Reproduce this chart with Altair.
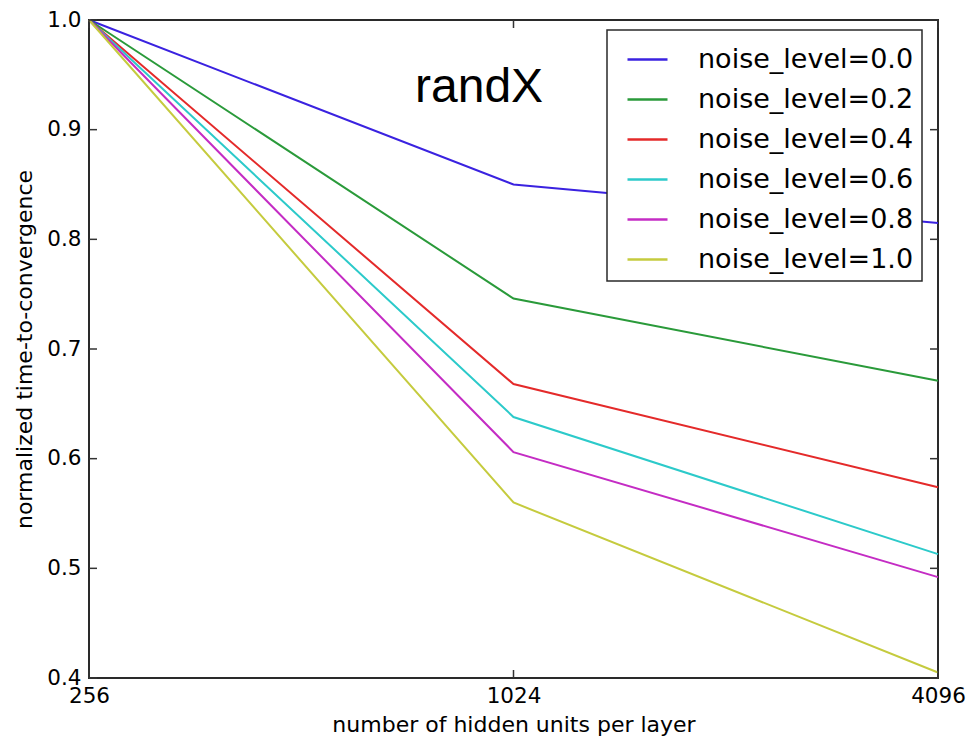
import altair as alt
import pandas as pd

# hidden layer widths on the x axis
hidden_units = [256, 1024, 4096]

# series names shown in the legend
noise_labels = [
    "noise_level=0.0",
    "noise_level=0.2",
    "noise_level=0.4",
    "noise_level=0.6",
    "noise_level=0.8",
    "noise_level=1.0",
]

# normalized time-to-convergence per noise level
ttc_noise_00 = [1.0, 0.850, 0.815]
ttc_noise_02 = [1.0, 0.746, 0.671]
ttc_noise_04 = [1.0, 0.668, 0.574]
ttc_noise_06 = [1.0, 0.638, 0.513]
ttc_noise_08 = [1.0, 0.606, 0.492]
ttc_noise_10 = [1.0, 0.560, 0.405]

line_colors = ["#3a22e0", "#2a9a3a", "#e42a2a", "#2ccaca", "#c42cc4", "#c5cb3e"]

y_ticks = [0.4, 0.5, 0.6, 0.7, 0.8, 0.9, 1.0]

series = [ttc_noise_00, ttc_noise_02, ttc_noise_04, ttc_noise_06, ttc_noise_08, ttc_noise_10]
rows = []
for label, values in zip(noise_labels, series):
    for units, v in zip(hidden_units, values):
        rows.append({"units": units, "noise": label, "ttc": v})
df = pd.DataFrame(rows)

W, H = 849, 658
TICK_FONT = "DejaVu Sans"

x_scale = alt.Scale(type="log", base=2, domain=[256, 4096], nice=False)
y_scale = alt.Scale(domain=[0.4, 1.0], nice=False, zero=False)

x_axis = alt.Axis(
    values=hidden_units,
    format="d",
    title="number of hidden units per layer",
    labelFlush=False,
    labelOverlap=False,
    ticks=False,
    domain=False,
    grid=False,
    labelPadding=7,
    labelFont=TICK_FONT,
    labelFontSize=21.5,
    labelColor="black",
    titleFont=TICK_FONT,
    titleFontSize=22,
    titleFontWeight="normal",
    titleColor="black",
    titleBaseline="alphabetic",
    titleY=53,
)
y_axis = alt.Axis(
    values=y_ticks,
    format=".1f",
    title="normalized time-to-convergence",
    labelFlush=False,
    labelOverlap=False,
    ticks=False,
    domain=False,
    grid=False,
    labelPadding=8,
    labelFont=TICK_FONT,
    labelFontSize=21.5,
    labelColor="black",
    titleFont=TICK_FONT,
    titleFontSize=22,
    titleFontWeight="normal",
    titleColor="black",
    titleBaseline="alphabetic",
    titleAngle=270,
    titleX=-58,
    titleY=H / 2,
)

lines = alt.Chart(df).mark_line(strokeWidth=2).encode(
    x=alt.X("units:Q", scale=x_scale, axis=x_axis),
    y=alt.Y("ttc:Q", scale=y_scale, axis=y_axis),
    color=alt.Color(
        "noise:N",
        scale=alt.Scale(domain=noise_labels, range=line_colors),
        legend=alt.Legend(
            title=None,
            orient="none",
            legendX=518,
            legendY=10,
            symbolType="stroke",
            symbolSize=1600,
            symbolStrokeWidth=2.5,
            symbolOffset=11,
            labelFont=TICK_FONT,
            labelFontSize=27,
            labelColor="black",
            labelOffset=29,
            labelLimit=400,
            rowPadding=5,
        ),
    ),
)

# inward tick marks on all four sides of the frame
ytick_df = pd.DataFrame({"v": y_ticks})
xtick_df = pd.DataFrame({"u": hidden_units})
tick_style = dict(color="#333333", strokeWidth=1.5)

left_ticks = alt.Chart(ytick_df).mark_rule(**tick_style).encode(
    y=alt.Y("v:Q", scale=y_scale, axis=y_axis), x=alt.value(0), x2=alt.value(8)
)
right_ticks = alt.Chart(ytick_df).mark_rule(**tick_style).encode(
    y=alt.Y("v:Q", scale=y_scale, axis=y_axis), x=alt.value(W - 8), x2=alt.value(W)
)
bottom_ticks = alt.Chart(xtick_df).mark_rule(**tick_style).encode(
    x=alt.X("u:Q", scale=x_scale, axis=x_axis), y=alt.value(H - 8), y2=alt.value(H)
)
top_ticks = alt.Chart(xtick_df).mark_rule(**tick_style).encode(
    x=alt.X("u:Q", scale=x_scale, axis=x_axis), y=alt.value(0), y2=alt.value(8)
)

chart = (
    alt.layer(lines, left_ticks, right_ticks, bottom_ticks, top_ticks)
    .properties(
        width=W,
        height=H,
        background="white",
        padding={"left": 89, "top": 20, "right": 33, "bottom": 63},
        autosize=alt.AutoSizeParams(type="none"),
        title=alt.TitleParams(
            "randX",
            anchor="start",
            frame="group",
            orient="top",
            offset=0,
            dx=326,
            dy=141,
            baseline="alphabetic",
            font="Liberation Sans",
            fontSize=48,
            fontWeight="normal",
            color="black",
        ),
    )
    .configure_view(stroke="#2a2a2a", strokeWidth=2)
    .configure_legend(strokeColor="#2a2a2a", strokeWidth=1.5, fillColor="white", padding=8)
)

chart.save("out.html", embed_options={"renderer": "svg", "actions": False})
